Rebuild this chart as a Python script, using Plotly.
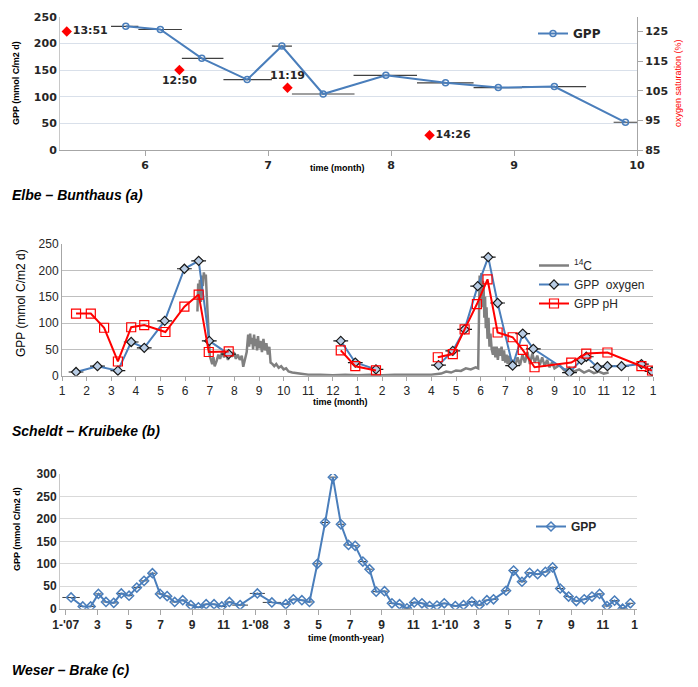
import plotly.graph_objects as go

W, H = 698, 687

# --- (a) Elbe - Bunthaus ---
elbe_month = [5.843, 6.124, 6.461, 6.830, 7.112, 7.448, 7.958, 8.443, 8.872, 9.328, 9.906]
elbe_gpp = [232, 226, 172, 132, 195, 105, 140, 126, 117, 119, 52]
elbe_start = [5.723, 5.945, 6.299, 6.637, 7.031, 7.194, 7.695, 8.211, 8.671, 9.065, 9.810]
elbe_end = [5.945, 6.299, 6.637, 7.031, 7.194, 7.703, 8.211, 8.671, 9.065, 9.586, 10.0]
o2_month = [5.363, 6.279, 7.158, 8.313]
o2_sat = [125, 112, 106, 90]
o2_time = ["13:51", "12:50", "11:19", "14:26"]

# --- (b) Scheldt - Kruibeke (month index, 0 = January of first year) ---
sch_ox_month = [0.57, 1.44, 2.27, 2.81, 3.34, 4.17, 4.97, 5.55, 5.98, 6.77, None,
                11.32, 11.91, 12.75, None,
                15.29, 15.87, 16.35, 16.88, 17.31, 17.69, 18.30, 18.71, 19.14, 20.61,
                21.09, 21.29, 21.74, 22.15, 22.72, 23.53, 23.96]
sch_ox_gpp = [7, 18, 9.5, 64, 53, 104, 203, 218, 66, 41, None,
              66, 25, 12, None,
              20, 47, 88, 170, 225, 138, 19, 80, 51, 6,
              30, 36, 16, 18, 18, 22, 8]
sch_ph_month = [0.57, 1.17, 1.71, 2.27, 2.81, 3.34, 4.20, 4.97, 5.55, 5.96, 6.77, None,
                11.32, 11.91, 12.75, None,
                15.26, 15.87, 16.35, 16.85, 17.28, 17.69, 18.30, 18.71, 19.19, 20.68,
                21.29, 22.15, 23.53, 23.96]
sch_ph_gpp = [118, 118, 91, 27, 92, 96, 83, 131, 154, 45, 46, None,
              48, 18, 10, None,
              35, 41, 88, 136, 183, 82, 73, 49, 16, 25,
              42, 44, 18, 9.5]
c14_month = [5.50, 5.53, 5.57, 5.60, 5.64, 5.68, 5.72, 5.76, 5.80, 5.84, 5.88, 5.92, 5.96,
             6.00, 6.05, 6.10, 6.15, 6.20, 6.28, 6.35, 6.42, 6.50, 6.58, 6.66, 6.74, 6.82,
             6.90, 6.98, 7.06, 7.14, 7.22, 7.30, 7.36, 7.42, 7.50, 7.56, 7.60, 7.64, 7.68,
             7.72, 7.76, 7.80, 7.84, 7.88, 7.92, 7.96, 8.00, 8.06, 8.12, 8.18, 8.24, 8.30,
             8.36, 8.42, 8.47, 8.55, 8.62, 8.70, 8.80, 8.90, 9.00, 9.10, 9.20, 9.35, 9.50,
             9.70, 10.0, 10.5, 11.0, 11.5, 12.0, 12.5, 13.0, 13.5, 14.0, 14.5, 15.0, 15.4,
             15.6, 15.8, 16.0, 16.2, 16.4, 16.6, 16.8, 16.9, 16.96, 17.00, 17.03, 17.06,
             17.09, 17.12, 17.15, 17.18, 17.21, 17.24, 17.28, 17.32, 17.36, 17.40, 17.45,
             17.50, 17.55, 17.60, 17.65, 17.70, 17.75, 17.80, 17.85, 17.90, 17.95, 18.00,
             18.05, 18.10, 18.15, 18.20, 18.30, 18.40, 18.50, 18.60, 18.70, 18.80, 18.90,
             19.00, 19.10, 19.20, 19.30, 19.40, 19.50, 19.60, 19.70, 19.80, 19.90, 20.00,
             20.20, 20.40, 20.60, 20.80, 21.00, 21.20, 21.40, 21.60, 21.80, 22.00, 22.20]
c14_gpp = [122, 175, 150, 182, 140, 190, 170, 196, 185, 192, 150, 110, 60,
           38, 30, 22, 35, 18, 28, 40, 32, 45, 35, 42, 30, 44,
           36, 45, 32, 40, 30, 38, 17, 30, 45, 78, 55, 80, 60,
           72, 50, 78, 56, 70, 48, 75, 52, 66, 45, 70, 48, 62,
           40, 55, 25, 22, 18, 22, 15, 18, 12, 14, 8, 6, 5,
           3, 2, 2, 1, 2, 1, 2, 1, 2, 2, 3, 2, 4,
           8, 6, 10, 9, 14, 12, 16, 14, 190, 150, 195, 130,
           180, 170, 110, 150, 90, 130, 70, 110, 55, 80, 50,
           40, 55, 35, 55, 30, 52, 38, 55, 28, 48, 25,
           40, 22, 38, 20, 30, 18, 35, 20, 40, 25, 45,
           22, 42, 25, 38, 20, 35, 18, 30, 16, 25, 14,
           20, 10, 15, 8, 12, 6, 10, 5, 8, 4, 6]

# --- (c) Weser - Brake (month index, 0 = 1-'07) ---
weser_month = [0.34, 1.08, 1.58, 2.07, 2.55, 3.04, 3.52, 4.01, 4.50, 4.96, 5.49, 5.97,
               6.42, 6.90, 7.41, 7.92, 8.40, 8.89, 9.39, 9.88, 10.36, 11.04, 12.13, 13.05,
               13.93, 14.41, 14.95, 15.43, 15.93, 16.42, 16.91, 17.42, 17.90, 18.32, 18.81,
               19.23, 19.65, 20.18, 20.65, 21.13, 21.60, 22.06, 22.55, 23.03, 23.50, 23.96,
               24.66, 25.18, 25.71, 26.19, 26.66, 27.08, 27.87, 28.35, 28.88, 29.36, 29.87,
               30.36, 30.82, 31.30, 31.83, 32.32, 32.82, 33.31, 33.79, 34.26, 34.74, 35.25,
               35.74]
weser_gpp = [25, 5, 5, 33, 15, 13, 34, 29, 47, 62, 79, 33,
             28, 15, 19, 8, 3, 10, 10, 5, 15, 8, 34, 14,
             10, 21, 19, 15, 100, 192, 293, 188, 142, 140, 105,
             88, 38, 39, 12, 10, 1, 14, 12, 6, 7, 12,
             6, 8, 16, 8, 19, 21, 40, 85, 60, 80, 77,
             82, 92, 45, 27, 17, 21, 27, 33, 6, 18, 0,
             12]
weser_err = [0.55, 0.2, 0.2, 0.2, 0.2, 0.2, 0.2, 0.2, 0.2, 0.2, 0.2, 0.2,
             0.2, 0.2, 0.2, 0.2, 0.2, 0.2, 0.2, 0.2, 0.2, 0.5, 0.48, 0.58,
             0.2, 0.2, 0.2, 0.2, 0.2, 0.2, 0.2, 0.2, 0.2, 0.2, 0.2,
             0.2, 0.2, 0.2, 0.2, 0.2, 0.2, 0.2, 0.2, 0.2, 0.2, 0.2,
             0.2, 0.2, 0.2, 0.2, 0.2, 0.2, 0.2, 0.2, 0.2, 0.2, 0.2,
             0.2, 0.2, 0.2, 0.2, 0.2, 0.2, 0.2, 0.2, 0.2, 0.2, 0.2,
             0.2]

sch_ticks = [str(m) for m in range(1, 13)] * 2 + ["1"]
weser_ticks = ["<b>1-'07</b>", "3", "5", "7", "9", "11", "<b>1-'08</b>", "3", "5", "7", "9",
               "11", "<b>1-'10</b>", "3", "5", "7", "9", "11", "1"]


def px_x(p):
    return p / W


def px_y(p):
    return 1 - p / H


BLUE = "#4a7ebb"
TICKFONT_A = dict(family="DejaVu Sans", size=11, color="#262626", weight="bold")
TICKFONT_B = dict(family="Liberation Sans", size=12, color="#262626")
TICKFONT_C = dict(family="Liberation Sans", size=12, color="#262626", weight="bold")

fig = go.Figure()

# (a)
fig.add_trace(go.Scatter(
    x=elbe_month, y=elbe_gpp, name="GPP", mode="lines+markers",
    line=dict(color=BLUE, width=2),
    marker=dict(symbol="circle-open", size=6, color=BLUE, line=dict(width=1.5)),
    error_x=dict(type="data", symmetric=False,
                 array=[e - m for m, e in zip(elbe_month, elbe_end)],
                 arrayminus=[m - s for m, s in zip(elbe_month, elbe_start)],
                 color="#404040", thickness=1.2, width=0),
    xaxis="x", yaxis="y", legend="legend"))
fig.add_trace(go.Scatter(
    x=o2_month, y=o2_sat, text=o2_time, mode="markers+text",
    textposition=["middle right", "bottom center", "top center", "middle right"],
    textfont=dict(family="DejaVu Sans", size=11, color="#262626", weight="bold"),
    marker=dict(symbol="diamond", size=8, color="#ff0000"),
    showlegend=False, xaxis="x", yaxis="y2"))

# (b)
fig.add_trace(go.Scatter(
    x=c14_month, y=c14_gpp, name="<sup>14</sup>C", mode="lines",
    line=dict(color="#808080", width=2.5),
    xaxis="x2", yaxis="y3", legend="legend2"))
fig.add_trace(go.Scatter(
    x=sch_ox_month, y=sch_ox_gpp, name="GPP  oxygen", mode="lines+markers",
    line=dict(color=BLUE, width=2),
    marker=dict(symbol="diamond", size=7, color="#b9cde5", line=dict(color="#1a1a1a", width=1.2)),
    error_x=dict(type="constant", value=0.3, color="#1a1a1a", thickness=1.2, width=0),
    xaxis="x2", yaxis="y3", legend="legend2"))
fig.add_trace(go.Scatter(
    x=sch_ph_month, y=sch_ph_gpp, name="GPP pH", mode="lines+markers",
    line=dict(color="#ff0000", width=2),
    marker=dict(symbol="square-open", size=9, color="#ff0000", line=dict(width=1.2)),
    xaxis="x2", yaxis="y3", legend="legend2"))

# (c)
fig.add_trace(go.Scatter(
    x=weser_month, y=weser_gpp, name="GPP", mode="lines+markers",
    line=dict(color=BLUE, width=2),
    marker=dict(symbol="diamond-open", size=7, color=BLUE, line=dict(width=1.5)),
    error_x=dict(type="data", array=weser_err, color="#404040", thickness=1, width=0),
    xaxis="x3", yaxis="y4", legend="legend3"))

axis_common = dict(showline=True, linecolor="#a6a6a6", zeroline=False,
                   ticks="outside", ticklen=5, tickcolor="#a6a6a6")

fig.update_layout(
    width=W, height=H,
    margin=dict(l=0, r=0, t=0, b=0),
    paper_bgcolor="white", plot_bgcolor="white",
    template="none",
    font=dict(family="Liberation Sans", color="#262626"),
    # (a)
    xaxis=dict(domain=[px_x(60), px_x(637)], anchor="y", range=[5.308, 10.0],
               tickvals=[6, 7, 8, 9, 10], showgrid=False, tickfont=TICKFONT_A, **axis_common),
    yaxis=dict(domain=[px_y(150), px_y(16.7)], anchor="x", range=[0, 250],
               tickvals=[0, 50, 100, 150, 200, 250], showgrid=True, gridcolor="#d9e0ea",
               showline=True, linecolor="#c8c8c8", zeroline=False, ticks="",
               tickfont=TICKFONT_A),
    yaxis2=dict(overlaying="y", anchor="x", side="right", range=[85, 130],
                tickvals=[85, 95, 105, 115, 125], showgrid=False, tickfont=TICKFONT_A,
                **axis_common),
    # (b)
    xaxis2=dict(domain=[px_x(62), px_x(653)], anchor="y3", range=[0, 24],
                tickvals=list(range(25)), ticktext=sch_ticks, showgrid=False,
                tickfont=TICKFONT_B, showline=True, linecolor="#a6a6a6", zeroline=False,
                ticks="outside", ticklen=4, tickcolor="#a6a6a6"),
    yaxis3=dict(domain=[px_y(375.7), px_y(244)], anchor="x2", range=[0, 250],
                tickvals=[0, 50, 100, 150, 200, 250], showgrid=True, gridcolor="#bfbfbf",
                showline=True, linecolor="#a6a6a6", zeroline=False, ticks="",
                tickfont=TICKFONT_B),
    # (c)
    xaxis3=dict(domain=[px_x(60), px_x(637)], anchor="y4", range=[-0.36, 36.16],
                tickvals=list(range(0, 37, 2)), ticktext=weser_ticks, showgrid=False,
                tickfont=TICKFONT_C, **axis_common),
    yaxis4=dict(domain=[px_y(608.7), px_y(474)], anchor="x3", range=[0, 300],
                tickvals=[0, 50, 100, 150, 200, 250, 300], showgrid=True, gridcolor="#d9d9d9",
                showline=True, linecolor="#c8c8c8", zeroline=False, ticks="",
                tickfont=TICKFONT_C),
    legend=dict(x=px_x(533), y=px_y(19), xanchor="left", yanchor="top",
                bgcolor="rgba(0,0,0,0)", font=dict(size=12, family="DejaVu Sans", weight="bold")),
    legend2=dict(x=px_x(534), y=px_y(251), xanchor="left", yanchor="top",
                 bgcolor="rgba(0,0,0,0)", tracegroupgap=0,
                 font=dict(size=12, family="Liberation Sans")),
    legend3=dict(x=px_x(531), y=px_y(512), xanchor="left", yanchor="top",
                 bgcolor="rgba(0,0,0,0)", font=dict(size=12, family="Liberation Sans", weight="bold")),
)

title_font = dict(family="Liberation Sans", size=14, color="black")
label_font = dict(family="Liberation Sans", size=9, color="black")
annotations = [
    # panel titles
    dict(text="<b><i>Elbe – Bunthaus (a)</i></b>", x=px_x(10), y=px_y(195), font=title_font),
    dict(text="<b><i>Scheldt – Kruibeke (b)</i></b>", x=px_x(10), y=px_y(431), font=title_font),
    dict(text="<b><i>Weser – Brake (c)</i></b>", x=px_x(10), y=px_y(670), font=title_font),
    # axis titles
    dict(text="<b>GPP (mmol C/m2 d)</b>", x=px_x(16), y=px_y(83), textangle=-90,
         xanchor="center", font=label_font),
    dict(text="<b>time (month)</b>", x=px_x(337), y=px_y(168), xanchor="center", font=label_font),
    dict(text="oxygen saturation (%)", x=px_x(678), y=px_y(83), textangle=-90,
         xanchor="center", font=dict(family="Liberation Sans", size=9, color="#ff0000")),
    dict(text="GPP (mmol C/m2 d)", x=px_x(21), y=px_y(303), textangle=-90,
         xanchor="center", font=dict(family="Liberation Sans", size=12, color="black")),
    dict(text="<b>time (month)</b>", x=px_x(340), y=px_y(402), xanchor="center", font=label_font),
    dict(text="<b>GPP (mmol C/m2 d)</b>", x=px_x(17), y=px_y(529), textangle=-90,
         xanchor="center", font=label_font),
    dict(text="<b>time (month-year)</b>", x=px_x(346), y=px_y(638), xanchor="center", font=label_font),
]
for a in annotations:
    a.setdefault("xanchor", "left")
    fig.add_annotation(xref="paper", yref="paper", yanchor="middle", showarrow=False, **a)

# drop the page's default body margin so the figure sits at the window's corner
fig.write_html("out.html", config={"displayModeBar": False},
               post_script="document.body.style.margin = '0px';")
